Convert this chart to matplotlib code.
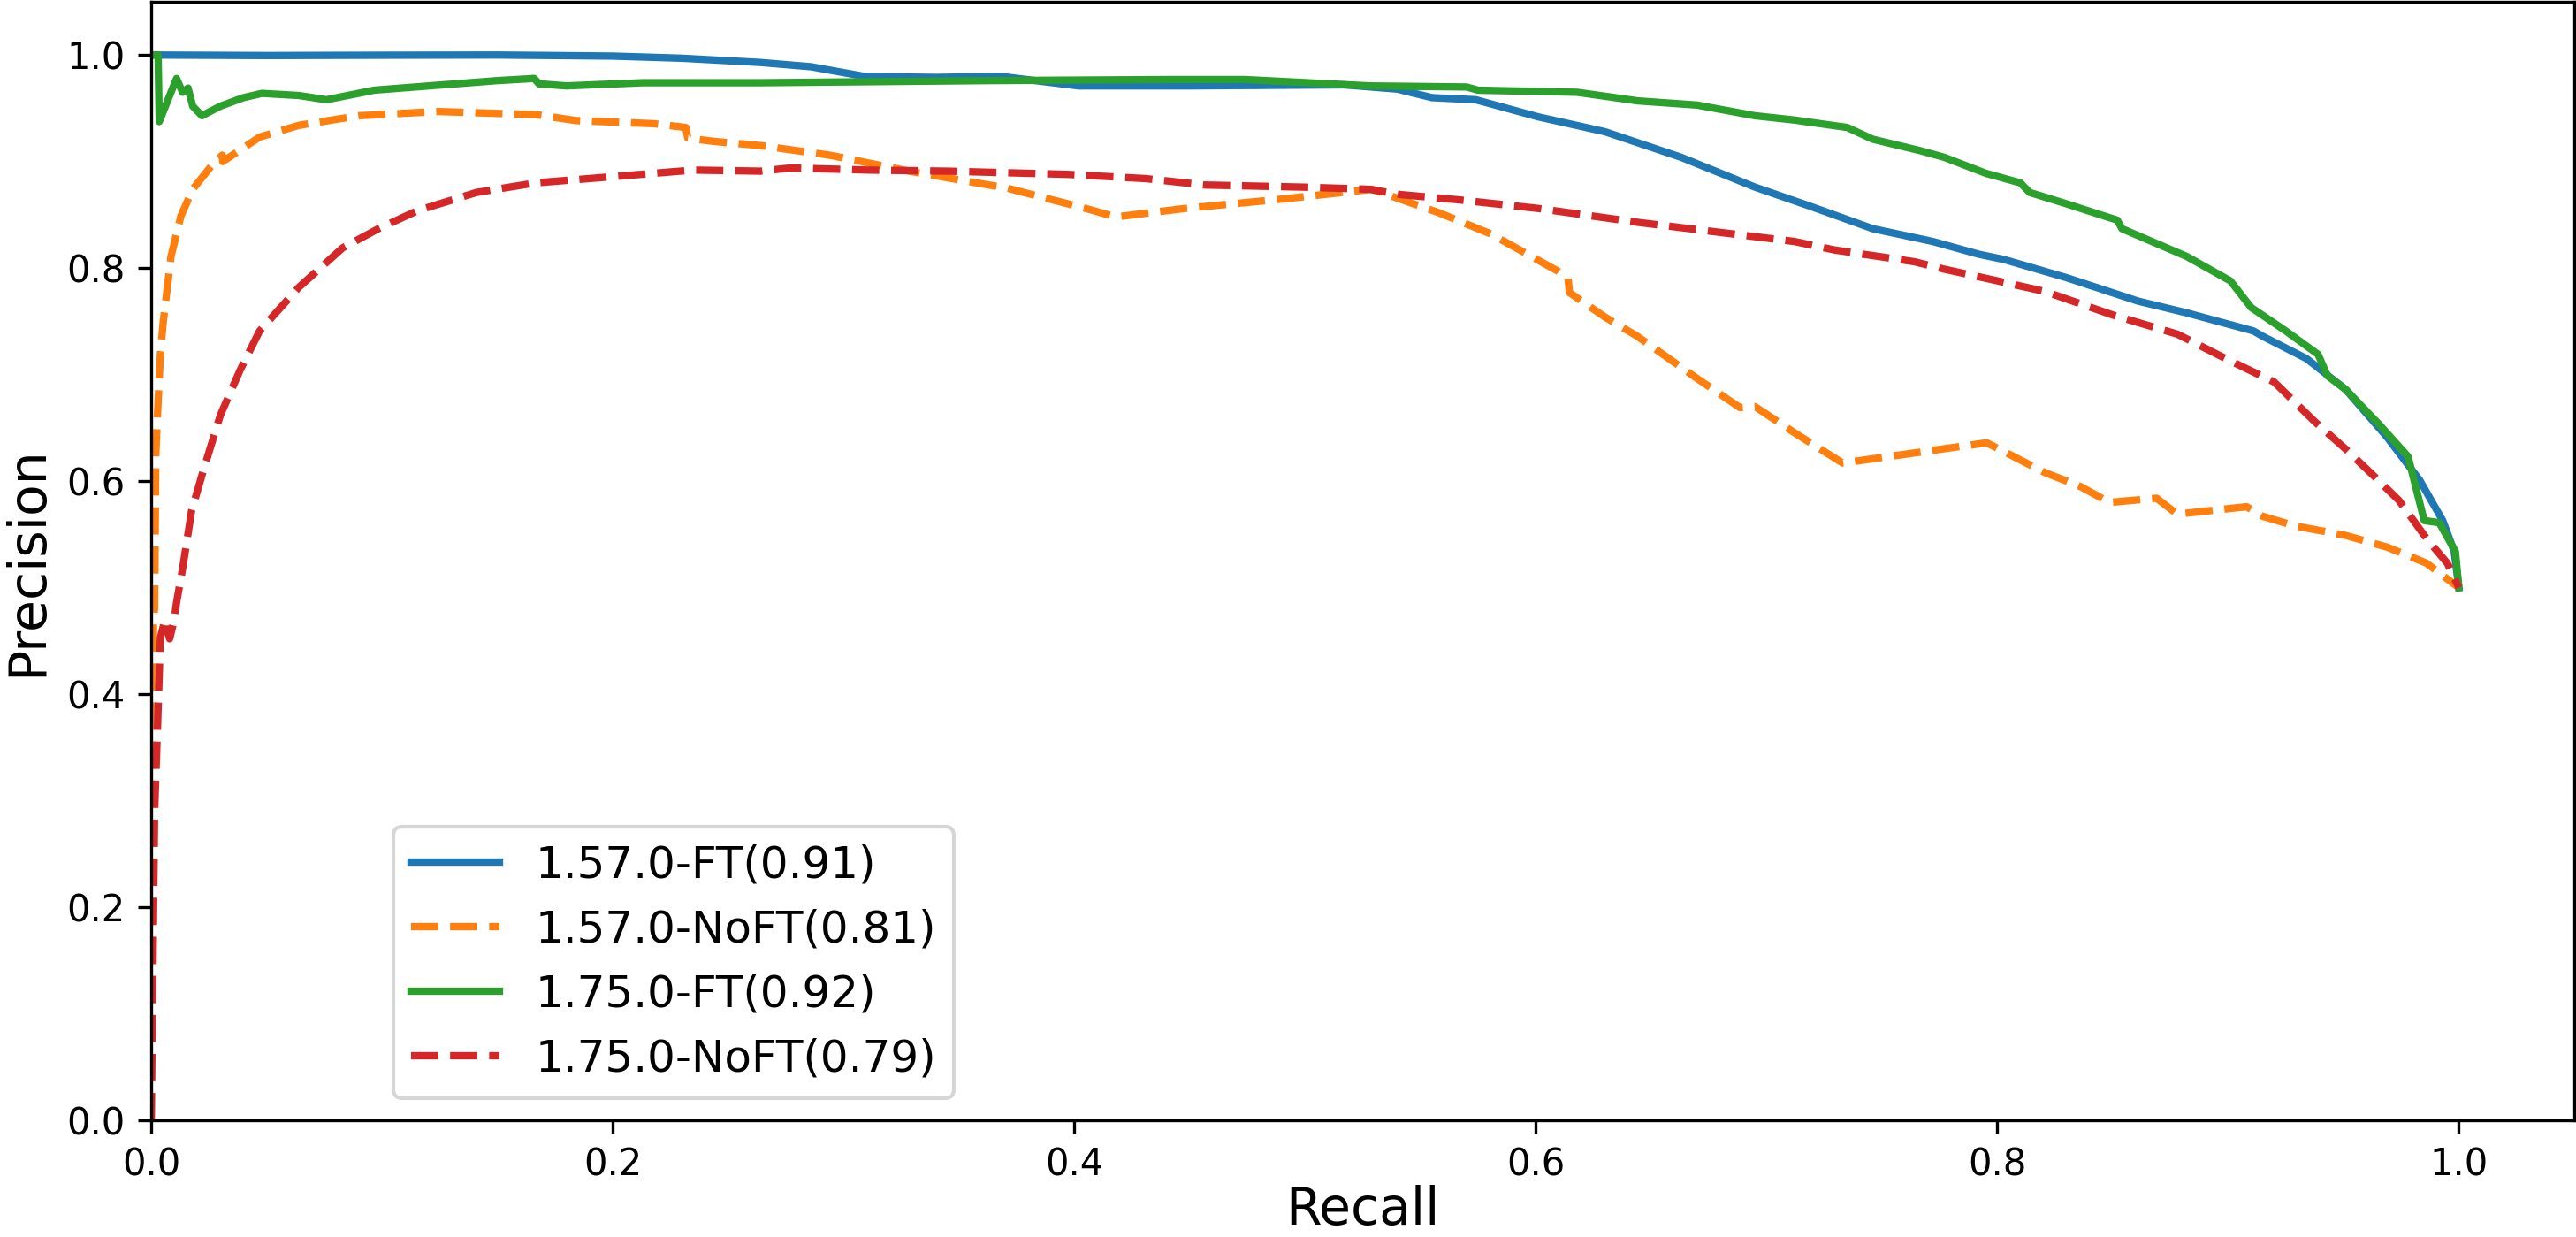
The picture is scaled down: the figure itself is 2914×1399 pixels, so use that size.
import matplotlib.pyplot as plt

# ---------------------------------------------------------------------------- #
# Precision-recall points.

# 1.57.0-FT
recall_ft157 = [0.0, 0.05, 0.10, 0.15, 0.20, 0.23, 0.264, 0.286, 0.309, 0.340,
                0.368, 0.402, 0.450, 0.517, 0.540, 0.555, 0.574, 0.601, 0.630,
                0.663, 0.695, 0.719, 0.746, 0.772, 0.792, 0.803, 0.830, 0.861,
                0.882, 0.911, 0.915, 0.934, 0.951, 0.969, 0.983, 0.993, 0.998, 1.0]
precision_ft157 = [1.0, 0.9995, 0.9998, 1.0, 0.999, 0.997, 0.993, 0.989, 0.980, 0.979,
                   0.980, 0.971, 0.971, 0.972, 0.968, 0.960, 0.958, 0.942, 0.928,
                   0.904, 0.876, 0.858, 0.837, 0.825, 0.813, 0.808, 0.791, 0.769,
                   0.758, 0.741, 0.736, 0.715, 0.686, 0.641, 0.601, 0.563, 0.534, 0.500]

# 1.57.0-NoFT
recall_noft157 = [0.0, 0.0003, 0.0010, 0.0015, 0.0020, 0.0026, 0.0040, 0.0052,
                  0.0086, 0.0129, 0.0180, 0.0265, 0.0308, 0.0310, 0.047, 0.064,
                  0.090, 0.124, 0.167, 0.184, 0.218, 0.2317, 0.2325, 0.2436,
                  0.264, 0.294, 0.3285, 0.371, 0.405, 0.418, 0.448, 0.491, 0.529,
                  0.558, 0.5806, 0.6097, 0.614, 0.6146, 0.630, 0.644, 0.6695,
                  0.6885, 0.695, 0.7124, 0.733, 0.7954, 0.8207, 0.836, 0.8486,
                  0.869, 0.878, 0.908, 0.915, 0.929, 0.951, 0.969, 0.986, 1.0]
precision_noft157 = [0.0, 0.196, 0.471, 0.481, 0.624, 0.656, 0.719, 0.749,
                     0.811, 0.849, 0.874, 0.897, 0.906, 0.900, 0.923, 0.934,
                     0.943, 0.947, 0.944, 0.9385, 0.9355, 0.932, 0.922, 0.919,
                     0.915, 0.906, 0.891, 0.875, 0.856, 0.848, 0.856, 0.865, 0.874,
                     0.852, 0.832, 0.797, 0.790, 0.777, 0.754, 0.736, 0.697,
                     0.669, 0.670, 0.645, 0.617, 0.636, 0.608, 0.595, 0.580,
                     0.584, 0.569, 0.576, 0.567, 0.558, 0.549, 0.538, 0.523, 0.500]

# 1.75.0-FT
recall_ft175 = [0.0, 0.003, 0.0035, 0.011, 0.0136, 0.016, 0.018, 0.022, 0.030,
                0.040, 0.048, 0.064, 0.076, 0.0966, 0.150, 0.166, 0.168, 0.180,
                0.213, 0.264, 0.363, 0.440, 0.474, 0.528, 0.570, 0.575, 0.618,
                0.644, 0.670, 0.695, 0.712, 0.735, 0.746, 0.767, 0.777, 0.795,
                0.810, 0.814, 0.829, 0.852, 0.854, 0.882, 0.901, 0.910, 0.925,
                0.939, 0.943, 0.951, 0.966, 0.978, 0.985, 0.9915, 0.9985, 1.0]
precision_ft175 = [1.0, 1.0, 0.9375, 0.978, 0.965, 0.969, 0.952, 0.943, 0.952,
                   0.960, 0.964, 0.962, 0.958, 0.967, 0.976, 0.978, 0.973, 0.971,
                   0.974, 0.974, 0.976, 0.977, 0.977, 0.971, 0.970, 0.967, 0.965,
                   0.957, 0.953, 0.943, 0.939, 0.932, 0.921, 0.910, 0.904, 0.889,
                   0.880, 0.871, 0.861, 0.845, 0.837, 0.811, 0.788, 0.763, 0.741,
                   0.719, 0.699, 0.686, 0.652, 0.623, 0.563, 0.561, 0.534, 0.500]

# 1.75.0-NoFT
recall_noft175 = [0.0, 0.0008, 0.0015, 0.0028, 0.004, 0.006, 0.008, 0.010, 0.011,
                  0.0137, 0.0175, 0.0226, 0.030, 0.0385, 0.047, 0.064, 0.083,
                  0.0985, 0.1155, 0.141, 0.1667, 0.201, 0.235, 0.264, 0.277,
                  0.311, 0.345, 0.397, 0.431, 0.4566, 0.4994, 0.528, 0.5414,
                  0.567, 0.601, 0.644, 0.678, 0.712, 0.7295, 0.764, 0.777, 0.798,
                  0.8207, 0.850, 0.878, 0.899, 0.920, 0.9375, 0.951, 0.9636,
                  0.974, 0.9864, 0.995, 1.0]
precision_noft175 = [0.0, 0.15, 0.291, 0.372, 0.453, 0.470, 0.452, 0.470, 0.486,
                     0.519, 0.572, 0.610, 0.662, 0.704, 0.741, 0.782, 0.819,
                     0.837, 0.854, 0.871, 0.880, 0.886, 0.892, 0.891, 0.894,
                     0.892, 0.891, 0.888, 0.884, 0.878, 0.876, 0.874, 0.869,
                     0.864, 0.856, 0.843, 0.834, 0.825, 0.817, 0.806, 0.799, 0.789,
                     0.778, 0.756, 0.738, 0.715, 0.693, 0.656, 0.630, 0.604,
                     0.582, 0.545, 0.523, 0.500]

labels = ['1.57.0-FT(0.91)', '1.57.0-NoFT(0.81)', '1.75.0-FT(0.92)', '1.75.0-NoFT(0.79)']

# ---------------------------------------------------------------------------- #

fig = plt.figure(figsize=(2914 / 300, 1399 / 300), dpi=300)
ax = fig.add_axes([171 / 2914, 132 / 1399, 2741 / 2914, 1265 / 1399])

ax.plot(recall_ft157, precision_ft157, color='C0', lw=2, label=labels[0])
ax.plot(recall_noft157, precision_noft157, color='C1', lw=2, ls='--', label=labels[1])
ax.plot(recall_ft175, precision_ft175, color='C2', lw=2, label=labels[2])
ax.plot(recall_noft175, precision_noft175, color='C3', lw=2, ls='--', label=labels[3])

ax.set_xlim(0, 1.05)
ax.set_ylim(0, 1.05)
ax.tick_params(labelsize=10)
ax.set_xlabel('Recall', fontsize=14, labelpad=0.5)
ax.set_ylabel('Precision', fontsize=14)

ax.legend(loc=(0.1, 0.02), fontsize=12)

fig.savefig('out.png', dpi=300)
